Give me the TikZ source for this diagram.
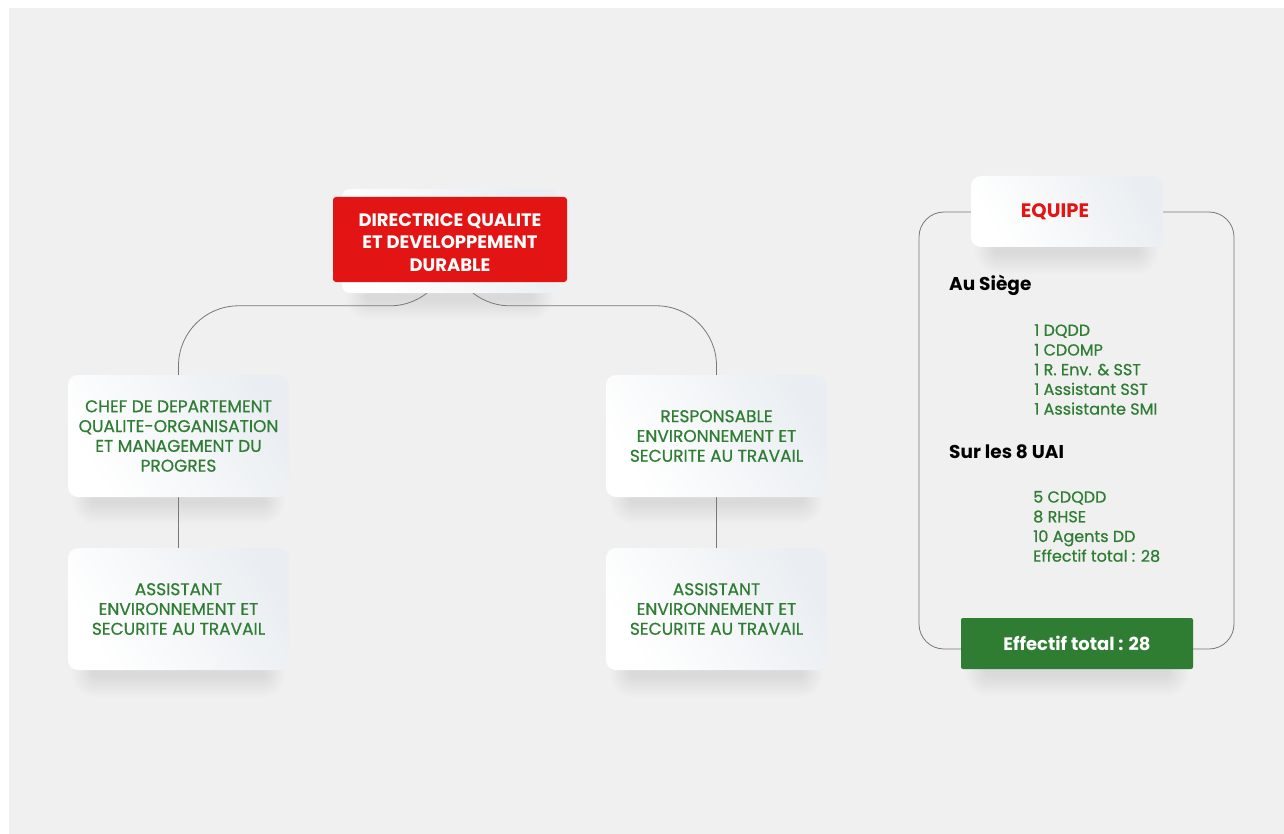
\documentclass[tikz,border=0pt]{standalone}
\usepackage{fontspec}
\setmainfont{Poppins}
\newfontfamily\medfont[FakeBold=0.6]{Poppins}

\definecolor{bg}{RGB}{240,240,240}
\definecolor{qred}{RGB}{227,20,20}
\definecolor{qgreen}{RGB}{46,125,50}
\definecolor{wire}{RGB}{120,120,120}
\definecolor{cardtint}{RGB}{234,238,242}

\pgfdeclarelayer{back}
\pgfdeclarelayer{shade}
\pgfdeclarelayer{wires}
\pgfsetlayers{back,shade,wires,main}

\tikzset{
  cardfill/.style={left color=white, right color=cardtint, shading angle=120},
  card/.style={rectangle, rounded corners=10pt, minimum width=221pt,
      minimum height=122pt, inner sep=0pt, cardfill, text=qgreen, align=center,
      font=\medfont\fontsize{17}{19.8}\selectfont},
  conn/.style={draw=wire, line width=0.8pt},
  listtext/.style={anchor=west, align=left, text=qgreen, inner sep=0pt,
      font=\medfont\fontsize{16}{19.7}\selectfont},
  heading/.style={anchor=west, inner sep=0pt, text=black,
      font=\fontsize{18.5}{20}\selectfont\bfseries},
  shadowlayer/.style={fill=black, fill opacity=0.008},
}

\begin{document}
\begin{tikzpicture}[x=1pt, y=-1pt]
  \useasboundingbox (0,0) rectangle (1284,834);
  \begin{pgfonlayer}{back}
    \fill[white] (0,0) rectangle (1284,834);
    \fill[bg] (9,8) rectangle (1284,834);
  \end{pgfonlayer}

  % direction
  \node[rectangle, rounded corners=8pt, minimum width=215pt, minimum height=104pt,
        cardfill] (topcard) at (449.5,241) {};
  \node[rectangle, rounded corners=3pt, minimum width=234pt, minimum height=85pt,
        fill=qred, inner sep=0pt] (top) at (450,239.5) {};
  \node[text=white, align=center, inner sep=0pt,
        font=\fontsize{18}{22.5}\selectfont\bfseries] (toptext) at (450,242.5)
        {DIRECTRICE QUALITE\\ET DEVELOPPEMENT\\DURABLE};

  % departments
  \node[card] (chef) at (178.5,436)
    {CHEF DE DEPARTEMENT\\QUALITE-ORGANISATION\\ET MANAGEMENT DU\\PROGRES};
  \node[card] (resp) at (716.5,436)
    {RESPONSABLE\\ENVIRONNEMENT ET\\SECURITE AU TRAVAIL};
  \node[card] (asl) at (178.5,609)
    {ASSISTANT\\ENVIRONNEMENT ET\\SECURITE AU TRAVAIL};
  \node[card] (asr) at (716.5,609)
    {ASSISTANT\\ENVIRONNEMENT ET\\SECURITE AU TRAVAIL};

  % team panel
  \node[rectangle, rounded corners=10pt, minimum width=192pt, minimum height=71pt,
        cardfill, text=qred,
        inner sep=0pt, font=\fontsize{19.5}{22}\selectfont\bfseries]
        (equipe) at (1067,211.5) {EQUIPE\hspace*{24pt}};
  \node[heading] (siege) at (949,285) {Au Siège};
  \node[listtext] (siegelist) at (1034,369.5)
    {1 DQDD\\1 CDOMP\\1 R. Env. \& SST\\1 Assistant SST\\1 Assistante SMI};
  \node[heading] (uai) at (949,452) {Sur les 8 UAI};
  \node[listtext] (uailist) at (1033,526.5)
    {5 CDQDD\\8 RHSE\\10 Agents DD\\Effectif total : 28};
  \node[rectangle, rounded corners=2pt, minimum width=232pt, minimum height=51pt,
        fill=qgreen, text=white, inner sep=0pt,
        font=\fontsize{18}{20}\selectfont\bfseries]
        (total) at (1077,643.5) {Effectif total : 28};

  % soft drop shadows under the cards
  \begin{pgfonlayer}{shade}
    \foreach \n in {topcard,chef,resp,asl,asr,equipe,total} {
      \foreach \r in {0,2,...,20} {
        \fill[shadowlayer, rounded corners=\r pt+4pt]
          ([xshift=-\r pt+24pt, yshift=-\r pt-7pt]\n.south west)
          rectangle ([xshift=\r pt-24pt, yshift=\r pt-20pt]\n.north east);
      }
    }
  \end{pgfonlayer}

  % connectors
  \begin{pgfonlayer}{wires}
    \draw[conn, rounded corners=25pt] (919,212) rectangle (1234,649);
    \draw[conn, rounded corners=60pt] (top.center) |- ([yshift=69pt]chef.north) -- (chef.north);
    \draw[conn, rounded corners=60pt] (top.center) |- ([yshift=69pt]resp.north) -- (resp.north);
    \draw[conn] (chef.south) -- (asl.north);
    \draw[conn] (resp.south) -- (asr.north);
  \end{pgfonlayer}
\end{tikzpicture}
\end{document}
